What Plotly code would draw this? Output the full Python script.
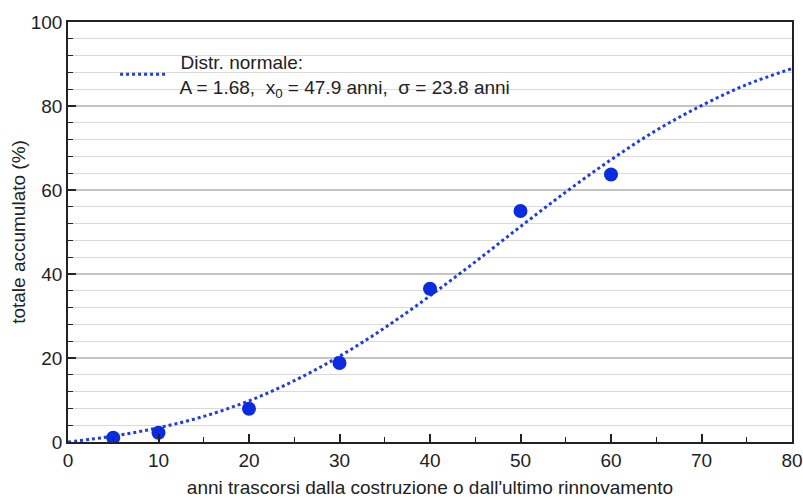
import plotly.graph_objects as go

# measured data points
anni = [5, 10, 20, 30, 40, 50, 60]
totale = [1.0, 2.2, 7.9, 18.8, 36.5, 55.0, 63.7]

# fitted curve, every 5 years
curva_x = [0, 5, 10, 15, 20, 25, 30, 35, 40, 45, 50, 55, 60, 65, 70, 75, 80]
curva_y = [0.0, 1.4, 3.4, 6.1, 9.8, 14.6, 20.4, 27.2, 34.8, 42.9, 51.3, 59.5, 67.2, 74.2, 80.1, 85.1, 88.9]

legend_label = "  Distr. normale:<br>  A = 1.68,  x<sub>0</sub> = 47.9 anni,  σ = 23.8 anni"
x_title = "anni trascorsi dalla costruzione o dall'ultimo rinnovamento"
y_title = "totale accumulato (%)"

blue_line = "#1f3be6"
blue_dot = "#0a2be0"
ink = "#222222"
FS = 19

fig = go.Figure()
fig.add_trace(go.Scatter(
    x=curva_x, y=curva_y, mode="lines", name=legend_label,
    line=dict(color=blue_line, width=3, dash="dot", shape="spline"),
    showlegend=True,
))
fig.add_trace(go.Scatter(
    x=anni, y=totale, mode="markers", showlegend=False,
    marker=dict(color=blue_dot, size=14, line=dict(width=0)),
))

font = "Liberation Sans, Arial, sans-serif"
tick_common = dict(ticks="inside", ticklen=8, tickwidth=1.5, tickcolor=ink)

fig.update_layout(
    width=803, height=498,
    margin=dict(l=68, r=11, t=22, b=56, autoexpand=False),
    paper_bgcolor="white", plot_bgcolor="white",
    font=dict(family=font, size=FS, color=ink),
    legend=dict(x=0.065, y=0.95, xanchor="left", yanchor="top",
                bgcolor="rgba(0,0,0,0)", font=dict(size=FS, color=ink),
                itemwidth=45, valign="middle"),
    xaxis=dict(
        range=[0, 80], dtick=10, tick0=0, **tick_common,
        showline=True, linecolor=ink, linewidth=1.5, mirror=True,
        showgrid=False, zeroline=False, automargin=False,
        tickfont=dict(size=FS, color=ink),
        minor=dict(dtick=5, ticks="inside", ticklen=5, tickwidth=1.2, tickcolor=ink, showgrid=False),
        title=dict(text=x_title, font=dict(size=FS, color=ink), standoff=14),
    ),
    yaxis=dict(
        range=[0, 100], dtick=20, tick0=0, **tick_common,
        showline=True, linecolor=ink, linewidth=1.5, mirror=True,
        showgrid=True, gridcolor="#c4c4c4", gridwidth=1.5, zeroline=False, automargin=False,
        tickfont=dict(size=FS, color=ink),
        minor=dict(dtick=4, ticks="inside", ticklen=5, tickwidth=1.2, tickcolor=ink,
                   showgrid=True, gridcolor="#dadada", gridwidth=1),
        title=dict(text=y_title, font=dict(size=FS, color=ink), standoff=0),
    ),
    xaxis2=dict(
        overlaying="x", side="top", range=[0, 80], dtick=10, tick0=0, **tick_common,
        showticklabels=False, showgrid=False, zeroline=False, showline=False,
        minor=dict(dtick=5, ticks="inside", ticklen=5, tickwidth=1.2, tickcolor=ink, showgrid=False),
    ),
    yaxis2=dict(
        overlaying="y", side="right", range=[0, 100], dtick=20, tick0=0, **tick_common,
        showticklabels=False, showgrid=False, zeroline=False, showline=False,
        minor=dict(dtick=4, ticks="inside", ticklen=5, tickwidth=1.2, tickcolor=ink, showgrid=False),
    ),
)

fig.write_html("out.html")
